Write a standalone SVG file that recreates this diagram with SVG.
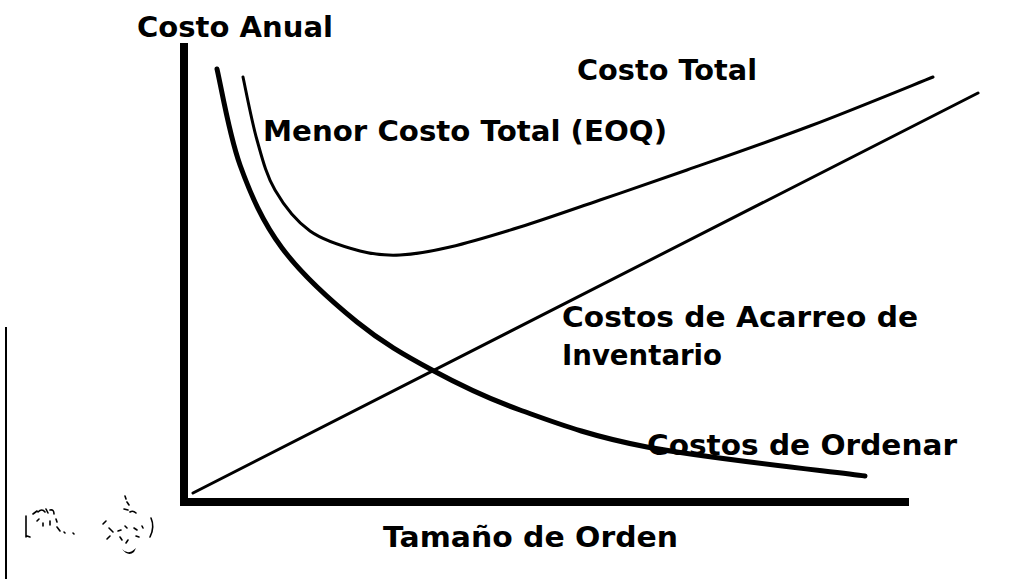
<svg xmlns="http://www.w3.org/2000/svg" width="1021" height="579" viewBox="0 0 1021 579">
  <style>
    .lbl { font-family: "DejaVu Sans", "Liberation Sans", sans-serif; font-weight: bold; font-size: 29px; fill: #000; }
    .curve { fill: none; stroke: #000; stroke-linecap: round; stroke-linejoin: round; }
    .mark { fill: none; stroke: #000; stroke-width: 1.6; stroke-linecap: round; }
  </style>
  <rect width="1021" height="579" fill="#fff"/>

  <g id="axes">
    <line x1="184" y1="43" x2="184" y2="506" stroke="#000" stroke-width="8"/>
    <line x1="180" y1="502" x2="909" y2="502" stroke="#000" stroke-width="8"/>
  </g>

  <g id="border">
    <line x1="6" y1="327" x2="6" y2="579" stroke="#000" stroke-width="2"/>
  </g>

  <g id="curves">
    <path id="carrying" class="curve" stroke-width="3" d="M193,493 L978,93"/>
    <path id="ordering" class="curve" stroke-width="5" d="M217,69 C220.8,85 229.2,135.2 240,165 C250.8,194.8 262.5,221.8 282,248 C301.5,274.2 332,301.7 357,322 C382,342.3 404.8,355.3 432,370 C459.2,384.7 484.2,397.2 520,410 C555.8,422.8 589.5,436 647,447 C704.5,458 828.7,471.2 865,476"/>
    <path id="total" class="curve" stroke-width="3" d="M243,77 C245.3,87.5 251.7,121.2 257,140 C262.3,158.8 266.2,174.8 275,190 C283.8,205.2 295.8,220.8 310,231 C324.2,241.2 345,247 360,251 C375,255 385,255.7 400,255 C415,254.3 430,251.7 450,247 C470,242.3 495,234.8 520,227 C545,219.2 572.2,209.5 600,200 C627.8,190.5 652,182.3 687,170 C722,157.7 769,141.5 810,126 C851,110.5 912.5,85.2 933,77"/>
  </g>

  <g id="labels">
    <text id="t-anual" class="lbl" x="137" y="37" textLength="196" lengthAdjust="spacingAndGlyphs">Costo Anual</text>
    <text id="t-total" class="lbl" x="577" y="80" textLength="180" lengthAdjust="spacingAndGlyphs">Costo Total</text>
    <text id="t-eoq" class="lbl" x="263" y="141" textLength="404" lengthAdjust="spacingAndGlyphs">Menor Costo Total (EOQ)</text>
    <text id="t-acarreo1" class="lbl" x="562" y="327" textLength="356" lengthAdjust="spacingAndGlyphs">Costos de Acarreo de</text>
    <text id="t-acarreo2" class="lbl" x="562" y="365" textLength="160" lengthAdjust="spacingAndGlyphs">Inventario</text>
    <text id="t-ordenar" class="lbl" x="647" y="455" textLength="310" lengthAdjust="spacingAndGlyphs">Costos de Ordenar</text>
    <text id="t-tamano" class="lbl" x="383" y="547" textLength="295" lengthAdjust="spacingAndGlyphs">Tamaño de Orden</text>
  </g>

  <g id="marks">
    <path class="mark" d="M26,516 L26,537 M27,536 L30,537"/>
    <path class="mark" d="M33,514 L37,511 M38,512 Q42,508 45,512 M46,509 L48,513 M50,510 Q54,509 54,514"/>
    <path class="mark" d="M37,521 L39,519 M43,523 L43,526 M50,521 L50,525 M56,519 L57,522 M57,527 L60,531 M64,532 L65,533 M73,533 L74,534"/>
    <path class="mark" d="M125,496 L126,499 M127,502 L129,505 M124,509 L128,510 M130,512 Q133,510 136,513"/>
    <path class="mark" d="M151,518 Q155,527 150,537"/>
    <path class="mark" d="M103,524 L106,521 M109,528 L113,532 M110,536 L107,539 M118,531 L121,530 M125,526 L127,528 M134,528 L137,530 M142,526 L143,528"/>
    <path class="mark" d="M120,537 L122,540 M128,540 L126,543 M136,536 L139,537"/>
    <path d="M122,549 Q128,556 136,548 L134,552 Q128,557 122,549 Z" fill="#000"/>
  </g>
</svg>
